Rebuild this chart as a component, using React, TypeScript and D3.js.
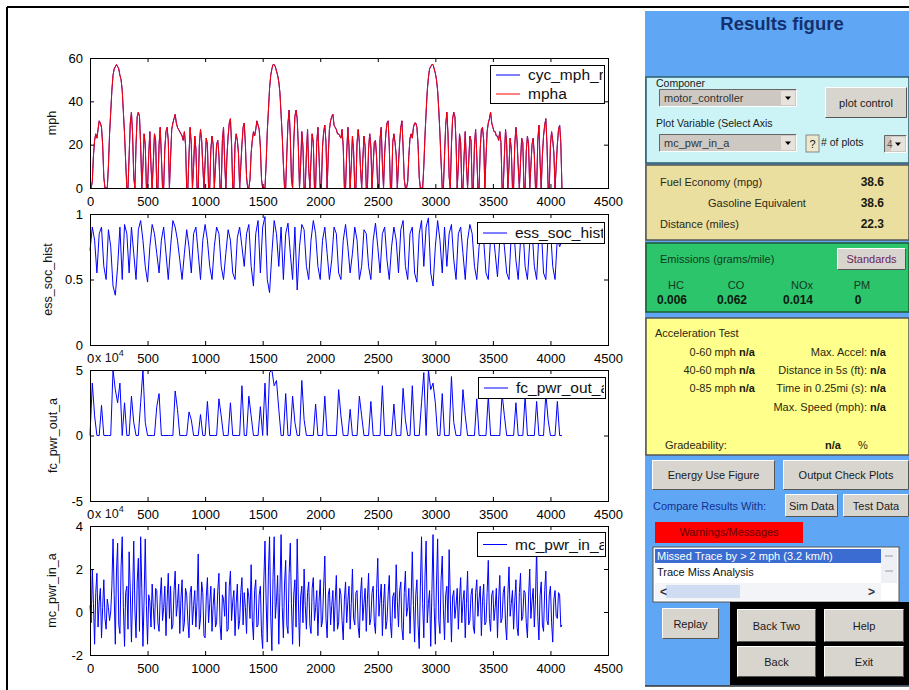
import React, { useEffect, useRef } from "react";
import * as d3 from "d3";

// vehicle speed (mph), 10 s samples, three repeats of the city cycle
const mphCycle1 = [
  0, 0, 3, 15, 22, 25, 23, 27, 31, 30,
  28, 20, 5, 0, 0, 0, 10, 25, 35, 45,
  52, 55, 56, 57, 56, 55, 52, 50, 45, 35,
  25, 12, 0, 0, 15, 30, 35, 25, 5, 0,
  20, 33, 35, 33, 20, 0, 10, 25, 20, 0,
  0, 15, 26, 10, 0, 12, 25, 22, 0, 0,
  20, 28, 15, 0, 0, 18, 26, 28, 22, 0,
  14, 27, 30, 32, 34, 30, 28, 27, 26, 25,
  24, 22, 26, 20, 0, 0, 15, 28, 20, 0,
  10, 24, 18, 0, 0, 20, 27, 22, 10, 0,
  12, 23, 20, 0, 0, 18, 24, 20, 0, 10,
  20, 22, 15, 0, 0, 22, 28, 12, 0, 15,
  24, 30, 32, 20, 0, 0, 20, 25, 22, 16,
  0, 10, 20, 28, 30, 20, 5,
];
const mphCycle2 = [
  0, 0, 4, 16, 22, 26, 24, 27, 31, 29,
  27, 19, 4, 0, 0, 0, 11, 26, 36, 46,
  52, 55, 57, 57, 56, 54, 52, 49, 44, 34,
  24, 11, 0, 0, 16, 30, 36, 24, 4, 0,
  21, 33, 36, 32, 19, 0, 11, 26, 19, 0,
  0, 16, 27, 9, 0, 13, 25, 21, 0, 0,
  21, 28, 14, 0, 0, 19, 26, 29, 21, 0,
  15, 27, 31, 33, 34, 29, 28, 27, 25, 25,
  24, 23, 27, 19, 0, 0, 16, 28, 19, 0,
  11, 24, 17, 0, 0, 21, 27, 21, 9, 0,
  13, 24, 19, 0, 0, 18, 25, 19, 0, 11,
  21, 22, 14, 0, 0, 23, 28, 11, 0, 16,
  25, 30, 31, 19, 0, 0, 21, 25, 21, 15,
  0, 11, 21, 28, 31, 19, 4,
];
const mphCycle3 = [
  0, 0, 3, 15, 23, 25, 23, 28, 30, 30,
  28, 20, 5, 0, 0, 0, 10, 24, 35, 45,
  51, 55, 56, 57, 57, 55, 53, 50, 45, 36,
  25, 12, 0, 0, 15, 29, 35, 25, 5, 0,
  20, 32, 35, 33, 21, 0, 10, 25, 21, 0,
  0, 15, 26, 11, 0, 12, 24, 22, 0, 0,
  20, 27, 15, 0, 0, 18, 27, 28, 22, 0,
  14, 26, 30, 32, 35, 30, 28, 26, 26, 24,
  24, 22, 26, 21, 0, 0, 15, 27, 20, 0,
  10, 23, 18, 0, 0, 20, 28, 22, 10, 0,
  12, 23, 21, 0, 0, 17, 24, 20, 0, 10,
  20, 23, 15, 0, 0, 22, 29, 12, 0, 15,
  24, 29, 32, 20, 0, 0, 20, 26, 22, 16,
  0, 10, 20, 27, 29, 21, 0,
];

// battery state of charge, 20 s samples
const socHist = [
  0.72, 0.9, 0.8, 0.55, 0.85, 0.9, 0.6, 0.5, 0.88, 0.75,
  0.45, 0.38, 0.6, 0.9, 0.5, 0.92, 0.85, 0.55, 0.9, 0.7,
  0.5, 0.88, 0.95, 0.8, 0.6, 0.48, 0.75, 0.92, 0.85, 0.7,
  0.55, 0.8, 0.9, 0.7, 0.5, 0.75, 0.95, 0.9, 0.8, 0.65,
  0.5, 0.7, 0.88, 0.75, 0.55, 0.85, 0.9, 0.7, 0.5, 0.8,
  0.92, 0.8, 0.6, 0.5, 0.75, 0.9, 0.85, 0.6, 0.5, 0.7,
  0.88, 0.8, 0.55, 0.5, 0.82, 0.9, 0.75, 0.6, 0.85, 0.92,
  0.6, 0.45, 0.85, 0.95, 0.55, 0.9, 0.98, 0.5, 0.4, 0.7,
  0.95, 0.85, 0.6, 0.9, 0.5, 0.85, 0.93, 0.7, 0.5, 0.9,
  0.42, 0.75, 0.92, 0.88, 0.6, 0.5, 0.8, 0.95, 0.85, 0.6,
  0.5, 0.8, 0.9, 0.7, 0.5, 0.65, 0.9, 0.85, 0.55, 0.5,
  0.8, 0.92, 0.75, 0.55, 0.7, 0.9, 0.8, 0.5, 0.6, 0.88,
  0.85, 0.6, 0.5, 0.8, 0.93, 0.75, 0.55, 0.85, 0.9, 0.65,
  0.5, 0.75, 0.9, 0.8, 0.55, 0.88, 0.95, 0.6, 0.5, 0.85,
  0.9, 0.55, 0.48, 0.85, 0.95, 0.6, 0.9, 0.97, 0.55, 0.45,
  0.75, 0.95, 0.8, 0.55, 0.9, 0.6, 0.85, 0.92, 0.65, 0.5,
  0.85, 0.9, 0.7, 0.5, 0.8, 0.92, 0.85, 0.6, 0.5, 0.75,
  0.9, 0.8, 0.55, 0.5, 0.82, 0.88, 0.7, 0.52, 0.8, 0.9,
  0.75, 0.55, 0.5, 0.85, 0.9, 0.65, 0.5, 0.8, 0.9, 0.6,
  0.5, 0.78, 0.88, 0.6, 0.5, 0.85, 0.9, 0.55, 0.5, 0.85,
  0.88, 0.6, 0.5, 0.82, 0.75, 0.8,
];

// fuel converter output power (x 10^4 W), 20 s samples
const fcPwrOut = [
  0, 4, 1.5, 0, 0, 2.3, 0, 0, 0, 0,
  5, 3.5, 2.5, 4, 0, 2.5, 0, 0, 3, 1,
  0, 0, 2.5, 5, 1, 0, 0, 0, 0, 2.2,
  3.2, 0, 0, 0, 0, 0, 0, 3.4, 2, 0,
  0, 0, 0, 1.8, 1.2, 0, 0, 0, 1.6, 0,
  0, 2.6, 0, 0, 0, 0, 2.8, 1.5, 0, 0,
  0, 2.5, 0, 0, 0, 0, 3.8, 0, 0, 3,
  1.5, 0, 0, 0, 2.2, 0, 4, 0, 4.8, 5,
  3.8, 4.2, 2, 0, 0, 3.2, 0, 0, 3, 1,
  0, 0, 4.2, 1.2, 0, 0, 0, 0, 2.4, 0,
  0, 0, 3, 0, 0, 0, 0, 0, 3.5, 1.5,
  0, 0, 0, 2, 0, 0, 0, 3, 1.5, 0,
  0, 0, 2.6, 0, 0, 0, 0, 3.8, 0, 0,
  0, 0, 2.4, 0, 0, 0, 3.6, 1.2, 0, 0,
  3.8, 0, 0, 0, 2.5, 4.8, 0, 5, 3.5, 4,
  2.5, 0, 0, 3.2, 0, 0, 0, 4.5, 1, 0,
  0, 0, 3.5, 1.5, 0, 0, 0, 0, 2.8, 0,
  0, 0, 0, 3, 0, 0, 0, 0, 0, 3.2,
  1.5, 0, 0, 0, 0, 2.5, 0, 0, 0, 3,
  0, 0, 0, 0, 2.6, 0, 0, 0, 3.2, 1.2,
  0, 0, 0, 2.6, 0, 0,
];

// motor controller input power (x 10^4 W), 10 s samples
const mcPwrIn = [
  0.3, -0.5, 2.0, 0.4, -1.5, 0.9, 1.8, -0.7, 0.5, 1.1, -1.2, 0.2, 1.5, -0.3, -0.8, 0.6, 0.2, -0.4, 0, 1.2,
  3.4, 0.8, -1.5, 1.9, 3.2, -0.6, -1.0, 2.1, 3.5, 0.2, -1.6, 0.9, 1.2, -0.8, 2.8, 1.0, -1.4, 0.7, 3.3, 0.1,
  -1.2, 1.4, 2.5, -0.9, 3.5, 1.1, -1.6, 0.6, 3.4, 0.3, -1.5, 0.8, 0.5, -0.7, 1.3, 0.2, -0.8, 1.1, 1.0, -0.5,
  -0.9, 0.7, 1.6, -0.4, 0.2, 1.2, -1.1, 0.5, 1.8, -0.3, 1.2, -0.8, -0.6, 1.0, 1.9, -0.2, 0.4, 1.3, -1.0, 0.6,
  1.5, -0.9, -0.5, 1.1, 0.8, -0.4, -1.2, 0.9, 1.2, -0.6, 0.3, 1.0, -0.7, 0.5, 2.7, -0.8, -0.3, 1.4, 0.9, -1.1,
  -1.2, 0.7, 1.6, -0.5, 0.4, 1.2, -0.9, 0.3, 1.1, -0.7, -0.5, 1.0, 1.8, -0.6, -1.3, 0.8, 0.6, -0.2, 1.4, -0.9,
  -0.8, 1.2, 1.9, -0.4, 0.5, 1.0, -1.1, 0.4, 1.3, -0.8, -0.4, 0.9, 1.6, -0.6, 0.9, 0.2, -1.0, 1.1, 0.7, -0.3,
  2.2, -0.4, -1.3, 1.0, 1.5, -0.7, -0.6, 0.8, 1.2, -1.0, -1.7, 1.4, 3.3, 0.5, -1.4, 1.9, 3.5, -0.2, -1.8, 1.6,
  3.5, -0.3, 0.5, 1.7, -1.5, 0.9, 3.6, 0.2, -1.2, 1.3, 2.4, -0.6, -1.0, 1.8, 3.2, 0.4, -1.5, 0.8, 1.5, -0.7,
  3.4, 0.6, -1.6, 0.7, 1.2, -0.5, 2.0, 0.3, -0.8, 0.9, 1.4, -0.6, -1.0, 1.1, 1.6, -0.4, 0.2, 1.0, -1.1, 0.5,
  1.5, -0.7, -0.4, 1.2, 2.6, -0.3, -1.2, 0.8, 1.1, -0.6, 0.3, 1.0, -0.9, 0.5, 1.7, -0.8, -0.5, 1.1, 0.8, -0.4,
  -1.3, 0.6, 1.4, -0.5, 0.5, 1.2, -0.8, 0.4, 2.0, -0.3, -0.6, 0.9, 1.0, -0.7, -1.2, 0.8, 1.6, -0.4, 0.4, 1.1,
  -0.9, 0.6, 1.8, -0.6, -0.3, 0.9, 1.2, -0.5, -1.0, 1.1, 2.5, -0.2, 0.6, 1.3, -1.1, 0.4, 1.3, -0.8, -0.4, 0.8,
  1.7, -0.5, -1.2, 0.7, 0.9, -0.3, 2.2, 0.5, -0.7, 1.0, 1.4, -0.8, -1.3, 0.9, 1.9, -0.2, 0.2, 1.1, -1.0, 0.6,
  2.8, 0.3, -1.4, 0.8, 1.5, -0.6, -1.7, 1.2, 3.5, 0.4, -1.2, 1.6, 3.3, -0.5, 0.4, 1.0, -1.6, 0.9, 3.6, 0.2,
  -1.5, 1.3, 3.4, -0.4, -1.0, 1.5, 2.6, 0.1, -1.3, 0.8, 1.2, -0.5, 2.9, 0.6, -1.4, 0.7, 1.0, -0.3, 0.3, 1.1,
  -0.8, 0.6, 1.6, -0.5, 0.5, 1.0, -1.2, 0.4, 1.9, -0.6, -0.4, 0.8, 1.1, -0.7, -1.0, 0.9, 1.5, -0.2, 0.6, 1.2,
  -1.1, 0.5, 1.3, -0.6, -0.5, 0.9, 2.4, -0.3, -0.9, 0.8, 1.0, -0.4, 0.2, 1.1, -1.2, 0.6, 1.7, -0.5, -0.3, 0.9,
  1.2, -0.6, -1.3, 0.8, 2.1, -0.2, 0.4, 1.0, -0.8, 0.5, 1.5, -0.7, -1.1, 0.9, 1.8, -0.4, -0.2, 1.0, 0.9, -0.5,
  -1.2, 0.7, 2.0, -0.3, 0.5, 1.1, -0.7, 0.6, 3.0, -0.2, -1.3, 0.8, 1.4, -0.6, -0.9, 1.0, 1.9, -0.4, -0.6, 0.8,
  1.2, -0.5, -1.4, 0.6, 1.0, -0.2, -0.3, 0.9, 0.8, -0.7, -0.6,
];

const xTicks = [0, 500, 1000, 1500, 2000, 2500, 3000, 3500, 4000, 4500];
const mphTicks = [0, 20, 40, 60];
const socTicks = [0, 0.5, 1];
const fcTicks = [-5, 0, 5];
const mcTicks = [-2, 0, 2, 4];

const fuelLabels = ["Fuel Economy (mpg)", "Gasoline Equivalent", "Distance (miles)"];
const fuelValues = ["38.6", "38.6", "22.3"];
const emissionNames = ["HC", "CO", "NOx", "PM"];
const emissionValues = ["0.006", "0.062", "0.014", "0"];
const accelLeft = ["0-60 mph", "40-60 mph", "0-85 mph"];
const accelRight = ["Max. Accel:", "Distance in 5s (ft):", "Time in 0.25mi (s):", "Max. Speed (mph):"];
const messages = ["Missed Trace by > 2 mph (3.2 km/h)", "Trace Miss Analysis"];

const FONT = "'Liberation Sans', Arial, sans-serif";

export default function App() {
  const ref = useRef<SVGSVGElement>(null);

  useEffect(() => {
    const svg = d3.select(ref.current);
    svg.selectAll("*").remove();
    const defs = svg.append("defs");

    const text = (x: number, y: number, s: string, o: any = {}) =>
      svg.append("text")
        .attr("x", x).attr("y", y)
        .attr("font-family", FONT)
        .attr("font-size", o.size ?? 11)
        .attr("font-weight", o.weight ?? "normal")
        .attr("text-anchor", o.anchor ?? "start")
        .attr("fill", o.fill ?? "#1a1a1a")
        .text(s);

    const rect = (x: number, y: number, w: number, h: number, fill: string, stroke = "none", sw = 1) =>
      svg.append("rect").attr("x", x).attr("y", y).attr("width", w).attr("height", h)
        .attr("fill", fill).attr("stroke", stroke).attr("stroke-width", sw);

    const button = (x: number, y: number, w: number, h: number, label: string, color = "#1a1a1a") => {
      rect(x, y, w, h, "#d8d5cf");
      svg.append("path").attr("d", `M${x + 0.5},${y + h - 0.5}V${y + 0.5}H${x + w - 0.5}`)
        .attr("fill", "none").attr("stroke", "#fff");
      svg.append("path").attr("d", `M${x + 0.5},${y + h - 0.5}H${x + w - 0.5}V${y + 0.5}`)
        .attr("fill", "none").attr("stroke", "#555");
      text(x + w / 2, y + h / 2 + 4, label, { anchor: "middle", fill: color });
    };

    const dropdown = (x: number, y: number, w: number, h: number, label: string) => {
      rect(x, y, w, h, "#cdc9c2");
      svg.append("path").attr("d", `M${x + 0.5},${y + h - 0.5}V${y + 0.5}H${x + w - 0.5}`)
        .attr("fill", "none").attr("stroke", "#666");
      svg.append("path").attr("d", `M${x + 0.5},${y + h - 0.5}H${x + w - 0.5}V${y + 0.5}`)
        .attr("fill", "none").attr("stroke", "#fff");
      if (label) text(x + 5, y + h / 2 + 4, label, { fill: "#333" });
      const bx = x + w - 16;
      rect(bx, y + 2, 14, h - 4, "#e6e3dd");
      svg.append("path")
        .attr("d", `M${bx + 4},${y + h / 2 - 1.5}h6l-3,3.5z`)
        .attr("fill", "#000");
    };

    // page frame
    svg.append("rect").attr("width", 909).attr("height", 690).attr("fill", "#fff");
    svg.append("line").attr("x1", 7).attr("y1", 7).attr("x2", 909).attr("y2", 7)
      .attr("stroke", "#000").attr("stroke-width", 2);
    svg.append("line").attr("x1", 7).attr("y1", 7).attr("x2", 7).attr("y2", 690)
      .attr("stroke", "#000").attr("stroke-width", 2);

    // ---------- plots ----------
    const x = d3.scaleLinear().domain([0, 4500]).range([90, 608]);
    const mpha = [...mphCycle1, ...mphCycle2, ...mphCycle3];

    const plots = [
      {
        top: 58, bottom: 188, domain: [0, 60], ticks: mphTicks, label: "mph", labelX: 56, exp: false,
        series: [
          { values: mpha, step: 10, color: "#0000ff" },
          { values: mpha, step: 10, color: "#ff0000" },
        ],
        legend: { x: 490, y: 65, w: 114, h: 38, items: [["cyc_mph_r", "#0000ff"], ["mpha", "#ff0000"]] },
      },
      {
        top: 214, bottom: 345, domain: [0, 1], ticks: socTicks, label: "ess_soc_hist", labelX: 52, exp: false,
        series: [{ values: socHist, step: 20, color: "#0000ff" }],
        legend: { x: 477, y: 222, w: 127, h: 21, items: [["ess_soc_hist", "#0000ff"]] },
      },
      {
        top: 370, bottom: 501, domain: [-5, 5], ticks: fcTicks, label: "fc_pwr_out_a", labelX: 57, exp: true,
        series: [{ values: fcPwrOut, step: 20, color: "#0000ff" }],
        legend: { x: 478, y: 377, w: 127, h: 21, items: [["fc_pwr_out_a", "#0000ff"]] },
      },
      {
        top: 526, bottom: 655, domain: [-2, 4], ticks: mcTicks, label: "mc_pwr_in_a", labelX: 56, exp: true,
        series: [{ values: mcPwrIn, step: 10, color: "#0000ff" }],
        legend: { x: 477, y: 532, w: 128, h: 24, items: [["mc_pwr_in_a", "#0000ff"]] },
      },
    ];

    plots.forEach((p, pi) => {
      const y = d3.scaleLinear().domain(p.domain).range([p.bottom, p.top]);
      const g = svg.append("g");

      p.series.forEach((s) => {
        const line = d3.line<number>()
          .x((_, i) => x(i * s.step))
          .y((d) => y(d));
        g.append("path").datum(s.values)
          .attr("d", line)
          .attr("fill", "none")
          .attr("stroke", s.color)
          .attr("stroke-width", 1)
          .attr("stroke-linejoin", "round");
      });

      g.append("rect")
        .attr("x", 90.5).attr("y", p.top + 0.5)
        .attr("width", 518).attr("height", p.bottom - p.top)
        .attr("fill", "none").attr("stroke", "#000");

      const styleAxis = (a: any) => {
        a.select(".domain").remove();
        a.attr("font-size", 13).attr("font-family", FONT).attr("color", "#000");
      };

      g.append("g").attr("transform", `translate(0,${p.bottom})`)
        .call(d3.axisBottom(x).tickValues(xTicks).tickSize(-4).tickSizeOuter(0).tickPadding(9)
          .tickFormat((d: any) => String(d)))
        .call(styleAxis);
      g.append("g").attr("transform", `translate(0,${p.top})`)
        .call(d3.axisTop(x).tickValues(xTicks).tickSize(-4).tickSizeOuter(0).tickFormat(() => ""))
        .call(styleAxis);
      g.append("g").attr("transform", `translate(90,0)`)
        .call(d3.axisLeft(y).tickValues(p.ticks).tickSize(-4).tickSizeOuter(0).tickPadding(7)
          .tickFormat((d: any) => String(d)))
        .call(styleAxis);
      g.append("g").attr("transform", `translate(608,0)`)
        .call(d3.axisRight(y).tickValues(p.ticks).tickSize(-4).tickSizeOuter(0).tickFormat(() => ""))
        .call(styleAxis);

      g.append("text")
        .attr("transform", `translate(${p.labelX},${(p.top + p.bottom) / 2}) rotate(-90)`)
        .attr("text-anchor", "middle")
        .attr("font-family", FONT).attr("font-size", 12.5).attr("fill", "#111")
        .text(p.label);

      if (p.exp) {
        const ex = g.append("text").attr("x", 95).attr("y", p.top - 8)
          .attr("font-family", FONT).attr("font-size", 12.5).attr("fill", "#111");
        ex.append("tspan").text("x 10");
        ex.append("tspan").attr("dy", -6).attr("font-size", 9).text("4");
      }

      const L = p.legend;
      const clipId = `leg-clip-${pi}`;
      defs.append("clipPath").attr("id", clipId)
        .append("rect").attr("x", L.x).attr("y", L.y).attr("width", L.w - 1).attr("height", L.h);
      g.append("rect").attr("x", L.x + 0.5).attr("y", L.y + 0.5).attr("width", L.w).attr("height", L.h)
        .attr("fill", "#fff").attr("stroke", "#000");
      const rowH = L.h / L.items.length;
      L.items.forEach(([name, color], i) => {
        const cy = L.y + rowH * (i + 0.5) + 0.5;
        g.append("line").attr("x1", L.x + 6).attr("x2", L.x + 30).attr("y1", cy).attr("y2", cy)
          .attr("stroke", color).attr("stroke-width", 1);
        g.append("text").attr("x", L.x + 38).attr("y", cy + 5)
          .attr("clip-path", `url(#${clipId})`)
          .attr("font-family", FONT).attr("font-size", 15.5).attr("fill", "#111")
          .text(name);
      });
    });

    // ---------- results panel ----------
    rect(645, 11, 264, 675, "#5fa7f4");
    svg.append("line").attr("x1", 645).attr("x2", 909).attr("y1", 686).attr("y2", 686)
      .attr("stroke", "#333").attr("stroke-width", 1.5);
    text(782, 30, "Results figure", { size: 18.5, weight: "bold", anchor: "middle", fill: "#14306e" });

    // component selection
    rect(646, 77, 263, 86, "#ccf4f6", "#2d5b6b", 1.5);
    text(656, 87, "Componer", { size: 10.5 });
    dropdown(659, 89, 138, 18, "motor_controller");
    button(825, 87, 82, 31, "plot control");
    text(656, 127, "Plot Variable (Select Axis", { size: 10.5 });
    dropdown(659, 134, 138, 18, "mc_pwr_in_a");
    rect(806, 135, 13, 17, "#ece8cc", "#888");
    text(812.5, 148, "?", { anchor: "middle" });
    text(821, 146, "# of plots", { size: 10.5 });
    dropdown(884, 135, 23, 18, "");
    text(887, 148, "4", { size: 10, fill: "#555" });

    // fuel economy
    rect(646, 165, 263, 75, "#ebdf9f", "#555", 1.5);
    const fuelX = [660, 708, 660];
    const fuelY = [186, 207, 228];
    fuelLabels.forEach((l, i) => {
      text(fuelX[i], fuelY[i], l, { fill: "#2a2a18" });
      text(884, fuelY[i], fuelValues[i], { weight: "bold", size: 12, anchor: "end", fill: "#1a1a10" });
    });

    // emissions
    rect(646, 243, 263, 69, "#2cc56c", "#1c5a36", 1.5);
    text(660, 263, "Emissions (grams/mile)", { fill: "#123a20" });
    button(837, 248, 69, 22, "Standards", "#6a2458");
    const emX = [676, 736, 802, 862];
    emissionNames.forEach((n, i) => {
      text(emX[i], 289, n, { anchor: "middle", fill: "#123a20" });
      text(emX[i] - 4, 304, emissionValues[i], { anchor: "middle", weight: "bold", size: 12, fill: "#0c1a10" });
    });

    // acceleration test
    rect(646, 318, 263, 137, "#ffff8c", "#555", 1.5);
    text(655, 337, "Acceleration Test", { fill: "#2a2a10" });
    const accelY = [356, 374, 392, 411];
    accelLeft.forEach((l, i) => {
      text(736, accelY[i], l, { anchor: "end", fill: "#2a2a10" });
      text(739, accelY[i], "n/a", { weight: "bold", fill: "#1a1a08" });
    });
    accelRight.forEach((l, i) => {
      text(867, accelY[i], l, { anchor: "end", fill: "#2a2a10" });
      text(870, accelY[i], "n/a", { weight: "bold", fill: "#1a1a08" });
    });
    text(665, 449, "Gradeability:", { fill: "#2a2a10" });
    text(825, 449, "n/a", { weight: "bold", fill: "#1a1a08" });
    text(858, 449, "%", { fill: "#2a2a10" });

    // buttons
    button(652, 460, 123, 30, "Energy Use Figure");
    button(783, 460, 126, 30, "Output Check Plots");
    text(653, 510, "Compare Results With:", { fill: "#14308e" });
    button(785, 494, 53, 23, "Sim Data");
    button(843, 494, 66, 23, "Test Data");

    rect(655, 522, 148, 21, "#ff0000");
    text(729, 536, "Warnings/Messages", { anchor: "middle", fill: "#6a0000" });

    // message list
    rect(653, 547, 246, 55, "#fff", "#555", 1);
    rect(655, 549, 226, 14, "#3a6cd2");
    text(657, 560, messages[0], { fill: "#fff" });
    text(657, 576, messages[1], { fill: "#111" });
    rect(881, 549, 16, 34, "#eef0f6");
    svg.append("path").attr("d", "M885,556h8M885,571h8").attr("stroke", "#999");
    rect(655, 583, 226, 17, "#f2f4f8");
    rect(666, 585, 74, 13, "#cfdcf2");
    text(660, 596, "<", { size: 12, weight: "bold", fill: "#334" });
    text(868, 596, ">", { size: 12, weight: "bold", fill: "#334" });

    button(662, 608, 57, 31, "Replay");
    rect(730, 602, 179, 83, "#000");
    button(737, 609, 79, 33, "Back Two");
    button(824, 609, 80, 33, "Help");
    button(737, 646, 79, 31, "Back");
    button(824, 646, 80, 31, "Exit");
  }, []);

  return (
    <svg
      ref={ref}
      width={909}
      height={690}
      style={{ position: "absolute", left: 0, top: 0 }}
    />
  );
}
